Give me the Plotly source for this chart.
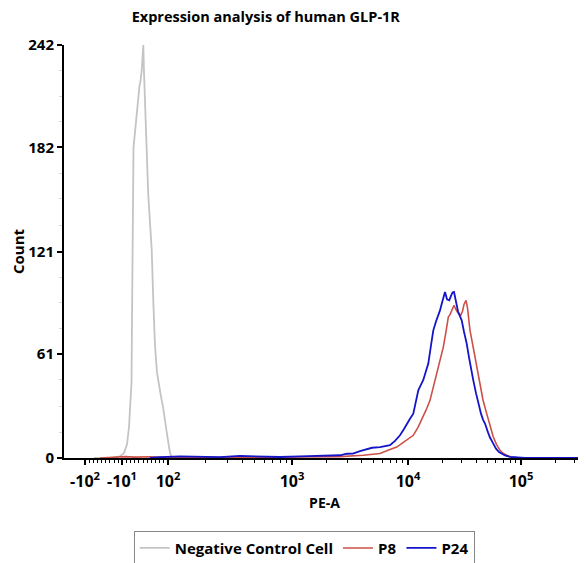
import plotly.graph_objects as go

# x values are display channels of the biexponential PE-A axis (0-1042)
neg_x = [60, 96, 104, 112, 120, 126, 130, 133, 135, 136, 136.8, 137.6, 139, 142, 146, 149, 151, 153,
         155.4, 157.2, 158.6, 160, 161.2, 163.2, 165.4, 168.4, 172, 175.4, 178.6, 182, 186, 190, 194,
         198, 201, 203, 206, 209, 212, 215.4, 222, 232, 260]
neg_y = [0, 0, 0.5, 1, 3, 8, 18, 32, 44, 80, 125, 165, 182, 191, 201, 212, 218, 221,
         227, 233, 242, 226, 216, 196, 174, 155, 138, 122, 92, 66, 50, 42, 36,
         30, 25, 20, 14, 8, 3, 0.6, 0, 0, 0]

p8_x = [72, 108, 122, 142, 172, 212, 272, 372, 472, 552, 598.6, 616, 632, 648, 665.4, 678, 688, 698.6,
        708, 718.6, 724, 732, 738, 745.4, 752, 758.6, 764, 768.6, 772, 776, 780, 784, 788, 793.4,
        797, 800, 804, 807, 812, 817, 822, 827, 832, 838, 845.4, 852, 858.6, 865, 872, 878, 885.4,
        896, 912, 1040]
p8_y = [0, 0.5, 0.8, 0.5, 0.7, 0.3, 0.5, 0.4, 0.6, 0.8, 1.6, 2, 2.6, 4.5, 6.4, 9, 11, 13.3,
        18, 24, 28, 33.8, 41, 49.4, 57, 65, 74, 82.6, 84, 87, 89.5, 87, 85, 83.6,
        86, 90, 92.4, 88, 74.8, 67, 59.2, 50, 41.6, 34, 26, 19, 12.3, 8, 4.5, 2.8, 1.6,
        0.5, 0, 0]

p24_x = [172, 192, 232, 272, 312, 352, 392, 432, 472, 512, 542, 552, 566, 578, 592, 605.4, 616, 632,
         642, 652, 662, 672, 680, 685.4, 692, 698.6, 704, 708.6, 714, 718.6, 724, 728.6, 734, 738.6,
         744, 748, 752, 756, 759, 762, 766, 770.6, 774, 777, 780, 783, 785.4, 788, 792, 795.4, 800,
         805.4, 810, 814, 818.6, 824, 828.6, 834, 838, 842, 848, 852, 858.6, 864, 870, 875.4, 882,
         892, 902, 922, 1040]
p24_y = [0, 0.5, 1, 0.8, 0.5, 1.2, 0.8, 0.6, 1, 1.2, 1.5, 1.6, 2.5, 2.6, 4, 4.9, 6, 6.4,
         7, 7.5, 10, 13.3, 17, 20, 23, 26, 33, 39.7, 43, 45.7, 51, 55.3, 66, 74.8,
         80, 83, 86.5, 91, 95, 97.3, 93, 92.4, 95, 97, 97.3, 93, 90.5, 86, 83, 80.7, 74,
         67, 59, 52, 45.5, 38, 31.9, 26, 22.5, 20.2, 15, 12, 8.4, 5.5, 3.5, 2.6, 1.5,
         0.6, 0.3, 0, 0]

x_tick_vals = [42, 116, 208, 456, 688, 914]
x_tick_text = ["-10<sup>2</sup>", "-10<sup>1</sup>", "10<sup>2</sup>", "10<sup>3</sup>",
               "10<sup>4</sup>", "10<sup>5</sup>"]
x_minor_vals = [50.3, 58.6, 66.9, 75.2, 83.5, 91.8, 100.1, 108.4, 125, 133.3, 141.6, 149.9, 158.2,
                166.5, 174.8, 183.1, 191.4, 199.7,
                282.7, 326.3, 357.3, 381.3, 401, 417.6, 432, 444.7,
                525.8, 566.7, 595.7, 618.2, 636.5, 652.1, 665.5, 677.4,
                756, 795.8, 824, 846, 863.9, 879, 892.1, 903.7, 982, 1021.8]
y_tick_vals = [0, 61, 121, 182, 242]
y_minor_vals = [15, 30, 46, 76, 91, 106, 136, 152, 167, 197, 212, 227]

FONT = "Open Sans"

fig = go.Figure()
fig.add_trace(go.Scatter(x=neg_x, y=neg_y, mode="lines", name="Negative Control Cell",
                         line=dict(color="#c4c4c4", width=1.8)))
fig.add_trace(go.Scatter(x=p8_x, y=p8_y, mode="lines", name="P8",
                         line=dict(color="#cc5048", width=1.6)))
fig.add_trace(go.Scatter(x=p24_x, y=p24_y, mode="lines", name="P24",
                         line=dict(color="#1414c8", width=1.8)))

fig.update_layout(
    width=578, height=555,
    margin=dict(l=56, r=1, t=37, b=105, autoexpand=False),
    paper_bgcolor="white", plot_bgcolor="white",
    font=dict(family=FONT, color="black"),
    title=dict(text="<b>Expression analysis of human GLP-1R</b>",
               font=dict(family=FONT, size=14.5, color="black"),
               x=0.446, xref="container", xanchor="center",
               y=1 - 9 / 555, yref="container", yanchor="middle"),
    showlegend=True,
    legend=dict(orientation="h", x=0.461, xanchor="center", y=-0.176, yanchor="top",
                bordercolor="#888888", borderwidth=1, bgcolor="white",
                font=dict(family=FONT, size=15, color="black", weight="bold"),
                traceorder="normal"),
)

fig.update_xaxes(
    range=[0, 1042], showgrid=False, zeroline=False,
    showline=True, linecolor="black", linewidth=2,
    tickmode="array", tickvals=x_tick_vals, ticktext=x_tick_text,
    ticks="outside", ticklen=5, tickwidth=1.5, tickcolor="black",
    ticklabelstandoff=3,
    tickfont=dict(family=FONT, size=16, color="black", weight="bold"),
    minor=dict(tickmode="array", tickvals=x_minor_vals, ticks="outside",
               ticklen=3, tickwidth=1, tickcolor="black"),
    title=dict(text="<b>PE-A</b>", font=dict(family=FONT, size=14, color="black"),
               standoff=7),
)
fig.update_yaxes(
    range=[0, 242], showgrid=False, zeroline=False,
    showline=True, linecolor="black", linewidth=2,
    tickmode="array", tickvals=y_tick_vals,
    ticks="outside", ticklen=5, tickwidth=1.5, tickcolor="black",
    tickfont=dict(family=FONT, size=15, color="black", weight="bold"),
    minor=dict(tickmode="array", tickvals=y_minor_vals, ticks="outside",
               ticklen=3, tickwidth=1, tickcolor="#d8d8d8"),
    title=dict(text="<b>Count</b>", font=dict(family=FONT, size=15, color="black"),
               standoff=7),
)

fig.write_html("out.html")
